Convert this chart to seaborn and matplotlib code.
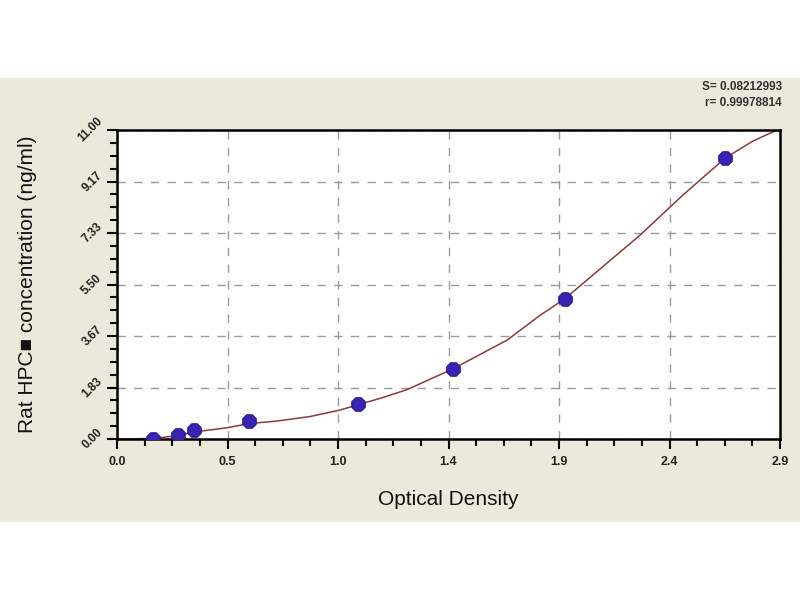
import numpy as np
import pandas as pd
import seaborn as sns
import matplotlib
matplotlib.use("Agg")
import matplotlib.pyplot as plt
from matplotlib.patches import Rectangle
from matplotlib.ticker import AutoMinorLocator

# standard points (OD, concentration)
od_std = [0.159, 0.265, 0.337, 0.578, 1.056, 1.470, 1.960, 2.660]
conc_std = [0.0, 0.156, 0.312, 0.625, 1.25, 2.5, 5.0, 10.0]

# fitted curve
od_fit = [0.0, 0.159, 0.265, 0.337, 0.481, 0.578, 0.700, 0.844, 0.975, 1.164,
          1.269, 1.470, 1.706, 1.850, 1.960, 2.069, 2.288, 2.476, 2.660, 2.780, 2.900]
conc_fit = [0.0, 0.02, 0.12, 0.25, 0.40, 0.55, 0.64, 0.80, 1.03, 1.48,
            1.76, 2.50, 3.52, 4.40, 5.00, 5.75, 7.26, 8.69, 10.00, 10.60, 11.05]

xticks = [0, 2.9 / 6, 2 * 2.9 / 6, 3 * 2.9 / 6, 4 * 2.9 / 6, 5 * 2.9 / 6, 2.9]
xtick_labels = ["0.0", "0.5", "1.0", "1.4", "1.9", "2.4", "2.9"]
yticks = [0, 11 / 6, 2 * 11 / 6, 3 * 11 / 6, 4 * 11 / 6, 5 * 11 / 6, 11]
ytick_labels = ["0.00", "1.83", "3.67", "5.50", "7.33", "9.17", "11.00"]

df_std = pd.DataFrame({"OD": od_std, "Conc": conc_std})
df_fit = pd.DataFrame({"OD": od_fit, "Conc": conc_fit})

sns.set_style("white")
plt.rcParams["font.family"] = ["Liberation Sans", "DejaVu Sans"]

fig = plt.figure(figsize=(8, 6), dpi=100, facecolor="white")
# beige panel band
fig.patches.append(Rectangle((0, 0.13), 1, 0.74, transform=fig.transFigure,
                             facecolor="#ece9dc", edgecolor="none", zorder=-5))
ax = fig.add_axes([0.14625, 0.2683, 0.82875, 0.515])
ax.set_zorder(2)
ax.set_facecolor("white")

sns.lineplot(data=df_fit, x="OD", y="Conc", ax=ax, color="#8b3a3a",
             linewidth=1.1, sort=False, zorder=2)
sns.scatterplot(data=df_std, x="OD", y="Conc", ax=ax, color="#3a22b5",
                edgecolor="#2a1590", s=110, marker="8", zorder=3, linewidth=0.8)

ax.set_xlim(0, 2.9)
ax.set_ylim(0, 11)
ax.set_xticks(xticks)
ax.set_xticklabels(xtick_labels, fontsize=9, fontweight="bold", color="#222222")
ax.set_yticks(yticks)
ax.set_yticklabels(ytick_labels, fontsize=8.5, fontweight="bold", rotation=45,
                   color="#222222", va="center", ha="right")
ax.xaxis.set_minor_locator(AutoMinorLocator(4))
ax.yaxis.set_minor_locator(AutoMinorLocator(4))
ax.tick_params(axis="both", which="both", bottom=True, left=True)
ax.tick_params(axis="both", which="major", direction="out", length=7, width=1.5, color="black")
ax.tick_params(axis="both", which="minor", direction="out", length=5, width=1.5, color="black")
ax.tick_params(axis="x", which="major", pad=5)
ax.tick_params(axis="y", which="major", pad=2)

ax.grid(True, which="major", linestyle=(0, (6, 6)), color="#9a9a9a", linewidth=1)
for sp in ax.spines.values():
    sp.set_color("black")
    sp.set_linewidth(1.8)
    sp.set_visible(True)

ax.set_xlabel("Optical Density", fontsize=15, labelpad=16, color="#111111")
ax.set_ylabel("Rat HPC\u25a0 concentration (ng/ml)", fontsize=15, labelpad=28, color="#111111")

fig.text(0.9775, 0.855, "S= 0.08212993", ha="right", va="center",
         fontsize=8.5, fontweight="bold", color="#333333")
fig.text(0.9775, 0.828, "r= 0.99978814", ha="right", va="center",
         fontsize=8.5, fontweight="bold", color="#333333")

fig.savefig("out.png", dpi=100, facecolor="white")
